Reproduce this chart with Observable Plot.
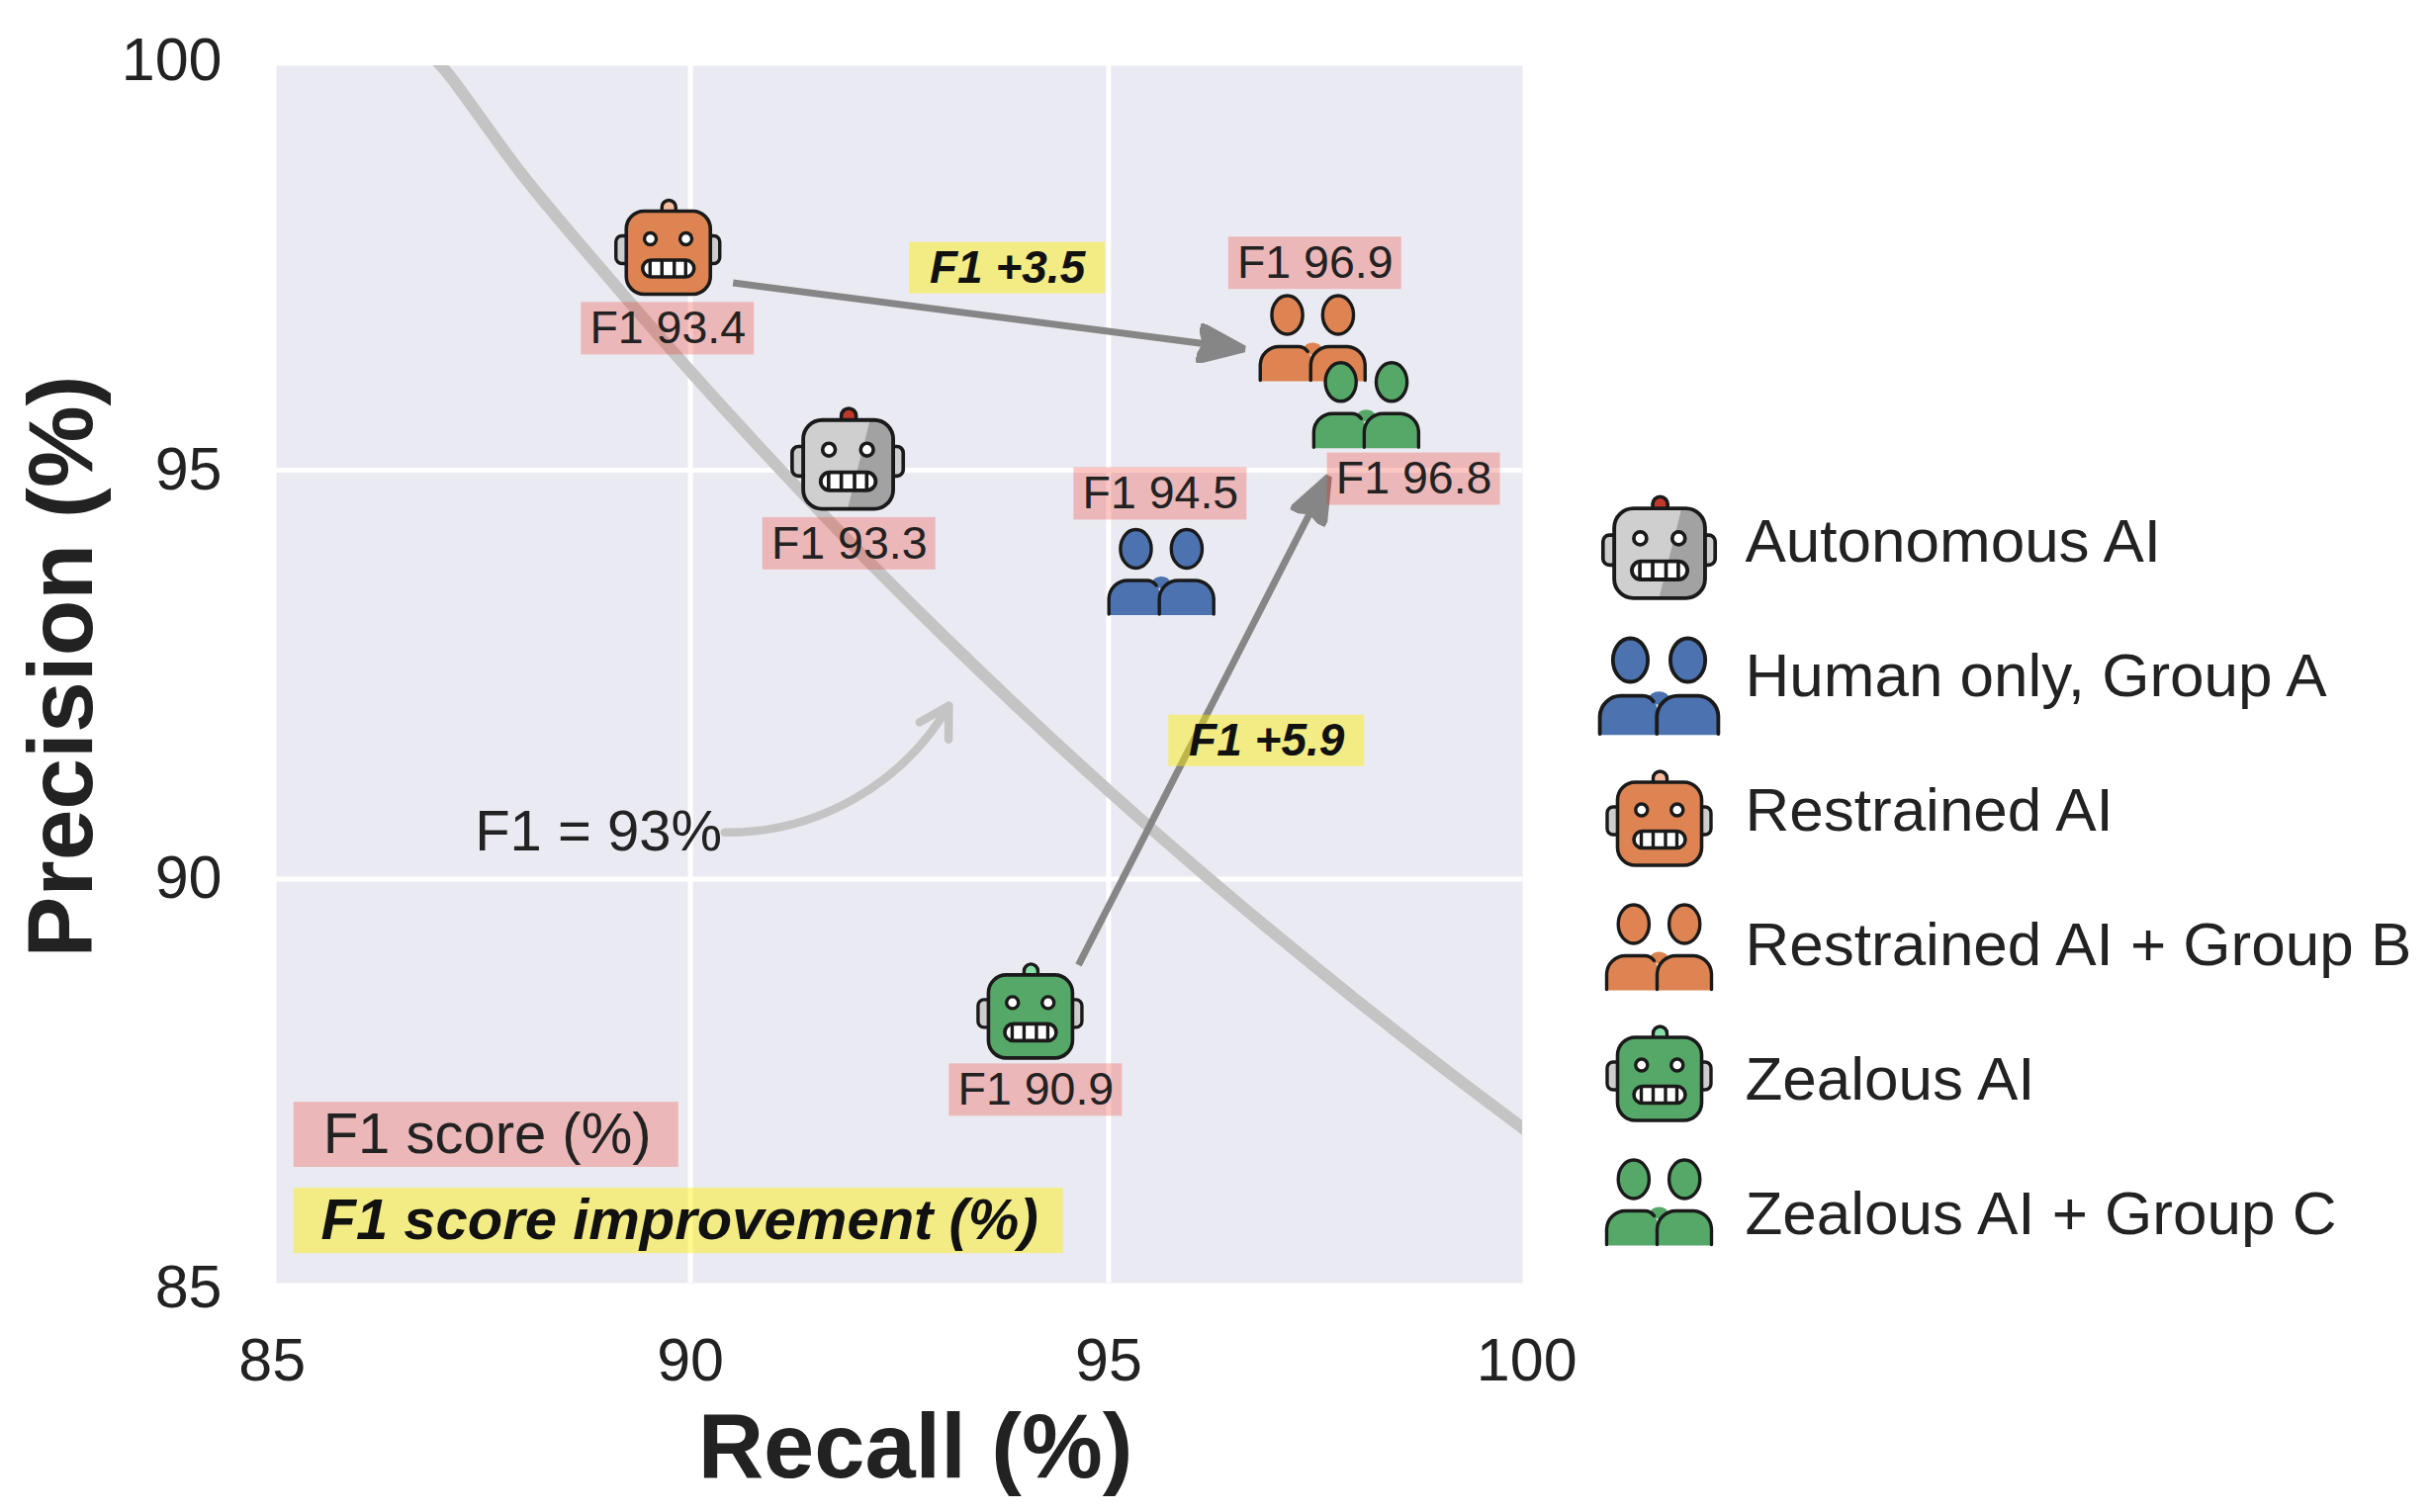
<!DOCTYPE html>
<html>
<head>
<meta charset="utf-8">
<script src="https://cdn.jsdelivr.net/npm/d3@7"></script>
<script src="https://cdn.jsdelivr.net/npm/@observablehq/plot@0.6"></script>
<style>
  body { margin: 0; background: #fff; }
  #wrap { position: relative; width: 2460px; height: 1529px; overflow: hidden; }
  #chart, #legend { position: absolute; top: 0; }
  #chart { left: 0; }
  #legend { left: 1620px; top: 478px; }
  svg { overflow: visible; }
</style>
</head>
<body>
<div id="wrap"><div id="chart"></div><div id="legend"></div></div>
<script>
// values
const names = ["Autonomous AI", "Human only, Group A", "Restrained AI", "Restrained AI + Group B", "Zealous AI", "Zealous AI + Group C"];
const kinds = ["robot", "people", "robot", "people", "robot", "people"];
const colors = ["#cfcfcf", "#4c72b0", "#dd8452", "#dd8452", "#55a868", "#55a868"];
const antennas = ["#c0392b", null, "#f6bb9e", null, "#86e0a6", null];
const recall = [91.88, 95.63, 89.73, 97.44, 94.06, 98.08];
const precision = [95.07, 93.76, 97.66, 96.62, 88.32, 95.80];
const f1 = [93.3, 94.5, 93.4, 96.9, 90.9, 96.8];
// where each F1 tag sits
const tagRecall = [91.90, 95.62, 89.73, 97.47, 94.13, 98.65];
const tagPrecision = [94.10, 94.71, 96.73, 97.53, 87.42, 94.89];

// F1 = 93% curve
const curveRecall = [86.95, 87.1, 88, 89, 90, 91, 92, 93, 94, 95, 96, 97, 98, 99, 100];
const curvePrecision = [100.02, 99.85, 98.60, 97.38, 96.21, 95.09, 94.02, 93.00, 92.02, 91.08, 90.18, 89.32, 88.49, 87.69, 86.92];

// improvements
const gainText = ["F1 +3.5", "F1 +5.9"];
const gainRecall = [93.79, 96.89];
const gainPrecision = [97.47, 91.69];
const arrowFrom = [[90.51, 97.29], [94.64, 88.95]];
const arrowTo = [[96.34, 96.52], [97.50, 94.66]];

const ticks = [85, 90, 95, 100];
const gridTicks = [90, 95];

const ink = "#222";
const font = "Liberation Sans";
const pink = "#f21e0a";
const yellow = "#fff000";

function robotSvg(color, antenna, grey) {
  const shade = grey ? `<path d="M21,-42H25A18,18 0 0 1 43,-24V24A18,18 0 0 1 25,42H0Z" fill="#a2a2a2"/>` : "";
  return `
    <path d="M-6,-41V-46A7,7 0 0 1 8,-46V-41Z" fill="${antenna}" stroke="#1a1a1a" stroke-width="3.4"/>
    <rect x="-52.5" y="-17" width="16" height="28" rx="6" fill="#cdcdcd" stroke="#1a1a1a" stroke-width="3.4"/>
    <rect x="36.5" y="-17" width="16" height="28" rx="6" fill="#cdcdcd" stroke="#1a1a1a" stroke-width="3.4"/>
    <rect x="-42" y="-42" width="85" height="84" rx="18" fill="${color}"/>
    ${shade}
    <rect x="-42" y="-42" width="85" height="84" rx="18" fill="none" stroke="#1a1a1a" stroke-width="3.6"/>
    <circle cx="-17.7" cy="-14" r="6" fill="#fff" stroke="#1a1a1a" stroke-width="3.4"/>
    <circle cx="18.3" cy="-14" r="6" fill="#fff" stroke="#1a1a1a" stroke-width="3.4"/>
    <rect x="-25.5" y="7.5" width="52" height="17" rx="8.5" fill="#fff" stroke="#1a1a1a" stroke-width="3.6"/>
    <path d="M-18,8V24M-6,8V24M6.5,8V24M18,8V24" stroke="#1a1a1a" stroke-width="3.4"/>`;
}

function peopleSvg(color) {
  const s = `stroke="#1a1a1a" stroke-width="3.4" fill="none" stroke-linecap="round"`;
  return `
    <ellipse cx="-25.7" cy="-23" rx="15.6" ry="19.5" fill="${color}" stroke="#1a1a1a" stroke-width="3.4"/>
    <ellipse cx="25.7" cy="-23" rx="15.6" ry="19.5" fill="${color}" stroke="#1a1a1a" stroke-width="3.4"/>
    <ellipse cx="0" cy="11" rx="9" ry="6" fill="${color}"/>
    <path d="M-54,44V27A19,19 0 0 1 -35,8H-15A13,13 0 0 1 -2,21V44Z" fill="${color}"/>
    <path d="M-2,44V27A19,19 0 0 1 17,8H35A19,19 0 0 1 54,27V44Z" fill="${color}"/>
    <path d="M-53,43V27A19,19 0 0 1 -34,9H-15A12,12 0 0 1 -5,14" ${s}/>
    <path d="M-2,43V27A19,19 0 0 1 17,9H35A19,19 0 0 1 53,27V43" ${s}/>`;
}

// each icon is a 140px square with the figure centred on it
function iconSrc(i, scale) {
  const body = kinds[i] === "robot" ? robotSvg(colors[i], antennas[i], i === 0) : peopleSvg(colors[i]);
  const svg = `<svg xmlns="http://www.w3.org/2000/svg" viewBox="-70 -70 140 140"><g transform="scale(${scale})">${body}</g></svg>`;
  return `data:image/svg+xml,${encodeURIComponent(svg)}`;
}

const plotScale = [1.07, 1, 1, 1, 1, 1];
const legendScale = [1.08, 1.13, 1, 1, 1, 1];

const points = names.map((name, i) => ({name, x: recall[i], y: precision[i], src: iconSrc(i, plotScale[i])}));
const tags = names.map((name, i) => ({x: tagRecall[i], y: tagPrecision[i], text: `F1 ${f1[i].toFixed(1)}`}));
const gains = gainText.map((text, i) => ({x: gainRecall[i], y: gainPrecision[i], text}));
const curve = curveRecall.map((x, i) => ({x, y: curvePrecision[i]}));
const arrows = arrowFrom.map((a, i) => ({x1: a[0], y1: a[1], x2: arrowTo[i][0], y2: arrowTo[i][1]}));

// filled arrow head, Plot.arrow only does open ones
function filledHead(color, context) {
  const ns = "http://www.w3.org/2000/svg";
  const marker = context.document.createElementNS(ns, "marker");
  marker.setAttribute("viewBox", "-1 -20 50 40");
  marker.setAttribute("markerUnits", "userSpaceOnUse");
  marker.setAttribute("markerWidth", 50);
  marker.setAttribute("markerHeight", 40);
  marker.setAttribute("refX", 22);
  marker.setAttribute("refY", 0);
  marker.setAttribute("orient", "auto");
  const path = context.document.createElementNS(ns, "path");
  path.setAttribute("d", "M0,-18L46,0L0,18L7,0Z");
  path.setAttribute("fill", color);
  marker.appendChild(path);
  return marker;
}

const chart = Plot.plot({
  width: 1620,
  height: 1529,
  marginLeft: 279,
  marginRight: 81,
  marginTop: 66,
  marginBottom: 232,
  style: {fontFamily: font, color: ink, background: "transparent"},
  // the panel stops just short of the 85 and 100 ticks
  x: {domain: [85.05, 99.95]},
  y: {domain: [85.06, 99.945]},
  marks: [
    Plot.frame({fill: "#eaeaf2", stroke: null}),
    Plot.gridX(gridTicks, {stroke: "#fff", strokeOpacity: 1, strokeWidth: 5}),
    Plot.gridY(gridTicks, {stroke: "#fff", strokeOpacity: 1, strokeWidth: 5}),
    Plot.line(curve, {x: "x", y: "y", stroke: "#c4c4c4", strokeWidth: 12, curve: "catmull-rom", clip: true}),
    Plot.axisX({ticks, tickSize: 0, tickPadding: 55, fontSize: 61, label: null, fill: ink}),
    Plot.axisY({ticks, tickSize: 0, tickPadding: 55, fontSize: 61, label: null, fill: ink}),
    Plot.image(points, {x: "x", y: "y", src: "src", width: 140, height: 140}),
    Plot.link(arrows, {x1: "x1", y1: "y1", x2: "x2", y2: "y2", stroke: "#868686", strokeWidth: 7, markerEnd: filledHead}),
    Plot.arrow([{x1: 90.41, y1: 90.57, x2: 93.09, y2: 92.12}], {x1: "x1", y1: "y1", x2: "x2", y2: "y2", bend: -30, stroke: "#c4c4c4", strokeWidth: 8.5, headLength: 6}),
    Plot.text(["F1 = 93%"], {x: 88.9, y: 90.57, fontSize: 58, fill: ink}),
    Plot.rect(tags, {x1: d => d.x - 1.034, x2: d => d.x + 1.034, y1: d => d.y - 0.32, y2: d => d.y + 0.32, fill: pink, fillOpacity: 0.25}),
    Plot.text(tags, {x: "x", y: "y", text: "text", fontSize: 46.5, fill: ink}),
    Plot.rect(gains, {x1: d => d.x - 1.17, x2: d => d.x + 1.17, y1: d => d.y - 0.314, y2: d => d.y + 0.314, fill: yellow, fillOpacity: 0.45}),
    Plot.text(gains, {x: "x", y: "y", text: "text", fontSize: 46, fontWeight: "bold", fontStyle: "italic", fill: "#111"}),
    // key for the two kinds of tag
    Plot.rect([{x1: 85.26, x2: 89.86, y1: 86.475, y2: 87.27}], {x1: "x1", x2: "x2", y1: "y1", y2: "y2", fill: pink, fillOpacity: 0.25}),
    Plot.text(["F1 score (%)"], {x: 87.57, y: 86.87, fontSize: 58, fill: ink}),
    Plot.rect([{x1: 85.26, x2: 94.46, y1: 85.42, y2: 86.22}], {x1: "x1", x2: "x2", y1: "y1", y2: "y2", fill: yellow, fillOpacity: 0.45}),
    Plot.text(["F1 score improvement (%)"], {x: 89.87, y: 85.82, fontSize: 58, fontWeight: "bold", fontStyle: "italic", fill: "#111"}),
    // axis titles
    Plot.text(["Recall (%)"], {frameAnchor: "bottom", lineAnchor: "middle", dx: 16, dy: 167, fontSize: 92, fontWeight: "bold", fill: ink}),
    Plot.text(["Precision (%)"], {frameAnchor: "left", textAnchor: "middle", lineAnchor: "middle", rotate: -90, dx: -216, dy: -8, fontSize: 93, fontWeight: "bold", fill: ink})
  ]
});
document.getElementById("chart").append(chart);

// legend: each icon sits a little off its row in the original
const iconShift = [11.5, 9.5, 13, 1.5, -1, -12.5];

const legend = Plot.plot({
  width: 840,
  height: 820,
  margin: 0,
  style: {fontFamily: font, color: ink, background: "transparent"},
  y: {type: "point", domain: names, padding: 0.5, axis: null},
  marks: [
    ...names.map((name, i) => Plot.image([name], {
      y: d => d,
      frameAnchor: "left",
      dx: 57,
      dy: iconShift[i] - 0.5,
      src: () => iconSrc(i, legendScale[i]),
      width: 140,
      height: 140
    })),
    Plot.text(names, {y: d => d, frameAnchor: "left", textAnchor: "start", dx: 144, fontSize: 62, fill: ink})
  ]
});
document.getElementById("legend").append(legend);
</script>
</body>
</html>
